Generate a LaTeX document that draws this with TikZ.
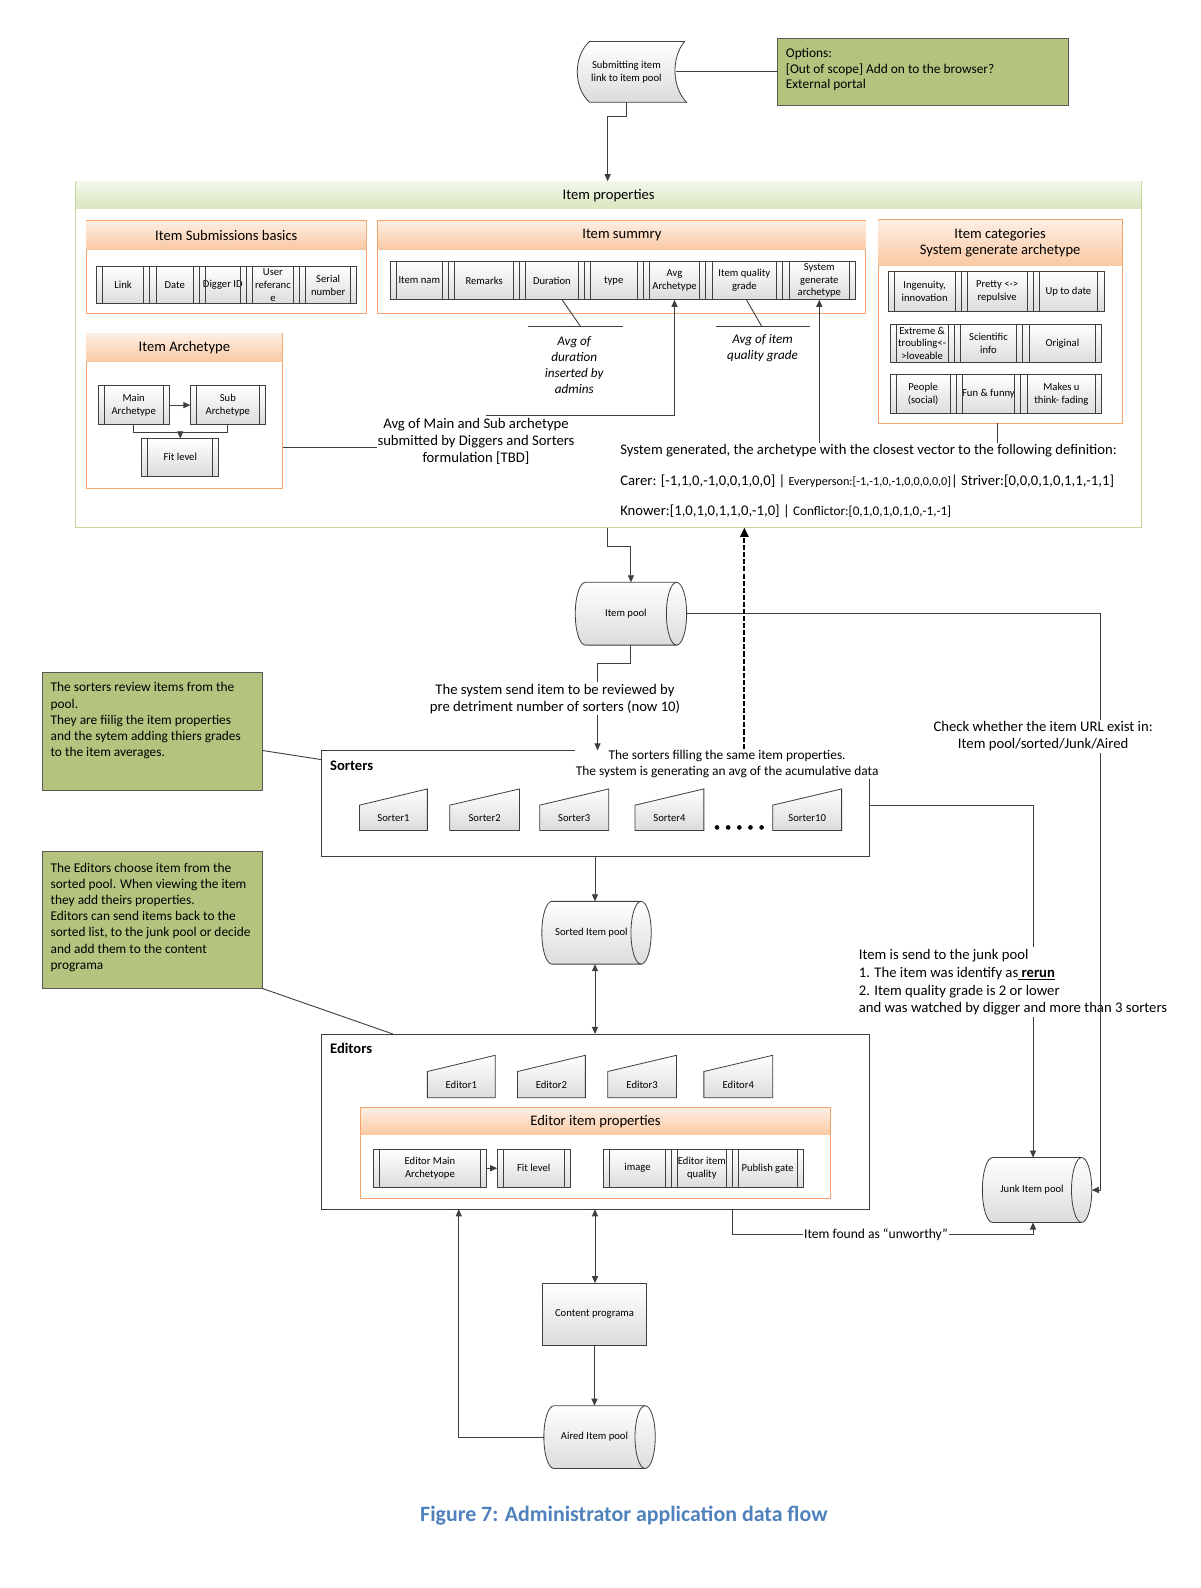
\documentclass[tikz,border=0pt]{standalone}
\usepackage{fontspec}
\setmainfont{Carlito}
\usetikzlibrary{arrows.meta,calc}
\definecolor{ln}{HTML}{3F3F3F}
\definecolor{grbd}{HTML}{C3D69B}
\definecolor{grA}{HTML}{F3F7EA}
\definecolor{grB}{HTML}{DAE6C0}
\definecolor{orbd}{HTML}{F5A56A}
\definecolor{orA}{HTML}{FEEEE2}
\definecolor{orB}{HTML}{FAC9A3}
\definecolor{note}{HTML}{B4C47F}
\definecolor{notebd}{HTML}{5A5A5A}
\definecolor{capc}{HTML}{4F81BD}
\definecolor{shB}{HTML}{DCDCDC}
\newcommand\fs[2]{\fontsize{#1}{#2}\selectfont}
\newcommand\bx[7][]{\node[#1, minimum width={(#5)-(#3)}, minimum height={(#6)-(#4)}] (#2) at ({((#3)+(#5))/2},{((#4)+(#6))/2}) {#7};}
\newcommand\ppl[1]{\draw[draw=ln, line width=0.8pt] ([xshift=6pt]#1.north west) -- ([xshift=6pt]#1.south west) ([xshift=-6pt]#1.north east) -- ([xshift=-6pt]#1.south east);}
\newcommand\pcell[6]{\bx[cellst]{#1}{#2}{#3}{#4}{#5}{#6}\ppl{#1}}
\newcommand\manin[7]{\path[shp] (#2,#5) -- (#3,#4) -- (#3,#6) -- (#2,#6) -- cycle;
  \bx[plain]{#1}{#2}{#5}{#3}{#6}{#7}}
\newcommand\cyl[6]{%
  \path[shp] (#2+10,#3) -- (#4-10,#3) arc[start angle=-90,end angle=90,x radius=10,y radius={((#5)-(#3))/2}] -- (#2+10,#5) arc[start angle=90,end angle=270,x radius=10,y radius={((#5)-(#3))/2}] -- cycle;
  \draw[draw=ln, line width=0.8pt] (#4-10,#3) arc[start angle=270,end angle=90,x radius=10,y radius={((#5)-(#3))/2}];
  \bx[plain]{#1}{#2}{#3}{#4}{#5}{}
  \node[plain] (#1t) at ([xshift=-5pt]#1.center) {#6};}
\tikzset{
 every node/.style={outer sep=0pt},
 ln/.style={draw=ln, line width=0.9pt},
 arr/.style={ln, -{Triangle[length=7pt,width=6pt]}},
 darr/.style={ln, {Triangle[length=7pt,width=6pt]}-{Triangle[length=7pt,width=6pt]}},
 dasharr/.style={draw=black, line width=2pt, dash pattern=on 5pt off 2pt, -{Triangle[length=9pt,width=8pt]}},
 cellst/.style={draw=ln, line width=0.8pt, top color=white, bottom color=shB, align=center, inner sep=1pt, font=\fs{10.5}{12.5}},
 plain/.style={draw=none, align=center, inner sep=1pt, font=\fs{10.5}{12.5}},
 shp/.style={draw=ln, line width=0.8pt, top color=white, bottom color=shB},
 gcont/.style={draw=grbd, line width=1pt, fill=white},
 ghdr/.style={draw=none, top color=grA, bottom color=grB, font=\fs{14.4}{17}},
 ocont/.style={draw=orbd, line width=1pt, fill=white},
 ohdr/.style={draw=none, top color=orA, bottom color=orB, font=\fs{14.4}{16.5}, align=center},
 notebox/.style={draw=notebd, line width=0.9pt, fill=note},
 notetext/.style={align=left, inner sep=0pt, font=\fs{13.2}{16}},
 frame/.style={draw=ln, line width=0.9pt, fill=white},
 lbl/.style={align=center, inner sep=1.5pt, font=\fs{14.5}{17}},
 boldlbl/.style={anchor=west, inner sep=0pt, font=\fs{14.4}{16}\bfseries},
}
\begin{document}
\begin{tikzpicture}[x=1pt,y=-1pt]
\useasboundingbox (0,0) rectangle (1185,1568);
\fill[white] (0,0) rectangle (1185,1568);

% ---------- top ----------
\path[shp] (582,41) -- (676,41) .. controls (663,56) and (663,86) .. (678,101) -- (582,101) .. controls (566,86) and (566,56) .. (582,41) -- cycle;
\bx[plain]{submit}{570}{41}{667}{101}{Submitting item\\link to item pool}
\bx[notebox]{options}{768}{38}{1055}{104}{}
\node[notetext, font=\fs{13.2}{15}, anchor=north west] (optionst) at (776,48) {Options:\\{[}Out of scope{]} Add on to the browser?\\External portal};

% ---------- item properties ----------
\bx[gcont]{props}{75}{179}{1127}{521}{}
\bx[ghdr]{propshdr}{75.5}{179.5}{1126.5}{206}{Item properties}

\bx[ocont]{basics}{85}{218}{362}{310}{}
\bx[ohdr]{basicshdr}{85.5}{218.5}{361.5}{246}{Item Submissions basics}
\pcell{link}{95}{263}{148}{300}{Link}
\pcell{date}{148}{263}{197}{300}{Date}
\pcell{digger}{197}{263}{243}{300}{Digger ID}
\pcell{userref}{243}{263}{296}{300}{User\\referanc\\e}
\pcell{serial}{296}{263}{352}{300}{Serial\\number}

\bx[ocont]{summary}{373}{218}{855}{310}{}
\bx[ohdr]{summaryhdr}{373.5}{218.5}{854.5}{246}{Item summry}
\pcell{itemnam}{385}{258}{443}{296}{Item nam}
\pcell{remarks}{443}{258}{513}{296}{Remarks}
\pcell{duration}{513}{258}{577}{296}{Duration}
\pcell{type}{577}{258}{635}{296}{type}
\pcell{avgarch}{635}{258}{697}{296}{Avg\\Archetype}
\pcell{quality}{697}{258}{773}{296}{Item quality\\grade}
\pcell{sysgen}{773}{258}{845}{296}{System\\generate\\archetype}

\bx[ocont]{cats}{867}{217}{1108}{418}{}
\bx[ohdr]{catshdr}{867.5}{217.5}{1107.5}{262}{Item categories\\System generate archetype}
\pcell{ingen}{877}{268}{949}{307}{Ingenuity,\\innovation}
\pcell{pretty}{949}{268}{1020}{307}{Pretty <->\\repulsive}
\pcell{uptodate}{1020}{268}{1090}{307}{Up to date}
\pcell{extreme}{879}{320}{942}{358}{Extreme \&\\troubling<-\\>loveable}
\pcell{scientific}{942}{320}{1010}{358}{Scientific\\info}
\pcell{original}{1010}{320}{1088}{358}{Original}
\pcell{people}{879}{370}{944}{408}{People\\(social)}
\pcell{fun}{944}{370}{1008}{408}{Fun \& funny}
\pcell{makes}{1008}{370}{1088}{408}{Makes u\\think- fading}

\bx[ocont]{arche}{85}{329}{279}{482}{}
\bx[ohdr]{archehdr}{85.5}{329.5}{278.5}{357}{Item Archetype}
\pcell{mainarch}{97}{381}{167}{419}{Main\\Archetype}
\pcell{subarch}{188}{381}{262}{419}{Sub\\Archetype}
\pcell{fitlvl}{140}{433}{216}{470}{Fit level}
\draw[arr] (mainarch.east) -- (subarch.west);
\draw[ln] (mainarch.south) -- ++(0,8) -| (subarch.south);
\draw[arr] ($(fitlvl.north)+(0,-7)$) -- (fitlvl.north);

% annotations inside item properties
\node[lbl, font=\fs{13}{15.7}\itshape] (avgdur) at (567,360.5) {Avg of\\duration\\inserted by\\admins};
\coordinate (cdl) at (521,322); \coordinate (cdr) at (615,322); \coordinate (cdm) at (573,322);
\draw[ln] ($(duration.south)+(10,0)$) -- (cdm);
\draw[ln] (cdl) -- (cdr);
\node[lbl, font=\fs{13}{15.5}\itshape] (avgqual) at (753,343.5) {Avg of item\\quality grade};
\coordinate (cql) at (707,322); \coordinate (cqr) at (800,322); \coordinate (cqm) at (752,322);
\draw[ln] ($(quality.south)+(2,0)$) -- (cqm);
\draw[ln] (cql) -- (cqr);

\node[lbl] (avgmain) at (470,436) {Avg of Main and Sub archetype\\submitted by Diggers and Sorters\\formulation {[}TBD{]}};
\draw[ln] (arche.east |- 0,442) -- (372,442);
\coordinate (am1) at (480,410);
\draw[arr] (am1) -| (avgarch.south);

\node[lbl, anchor=west] (sg1) at (611,445) {System generated, the archetype with the closest vector to the following definition:};
\node[lbl, anchor=west] (sg2) at (611,475) {Carer: [-1,1,0,-1,0,0,1,0,0] | {\fs{12}{14}Everyperson:[-1,-1,0,-1,0,0,0,0,0]}| Striver:[0,0,0,1,0,1,1,-1,1]};
\node[lbl, anchor=west] (sg3) at (611,505) {Knower:[1,0,1,0,1,1,0,-1,0] | {\fs{13}{15}Conflictor:[0,1,0,1,0,1,0,-1,-1]}};
\draw[arr] (sg1.north -| sysgen.south) -- (sysgen.south);
\coordinate (k1) at (985,0);
\draw[ln] (cats.south -| k1) -- (sg1.north -| k1);

% top connectors
\draw[ln] (submit.east) -- (options.west);
\coordinate (c1) at (600,115);
\draw[arr] (submit.south) |- (c1) -- (c1 |- props.north);

% ---------- item pool ----------
\cyl{itempool}{568}{575}{678}{637}{Item pool}
\coordinate (p1) at (600,540);
\draw[arr] (props.south -| p1) -- (p1) -| (itempool.north);

% ---------- sorters ----------
\bx[frame]{sorters}{317}{741}{858}{846}{}
\node[boldlbl] (sorterslbl) at (326,756) {Sorters};
\manin{sorter1}{355}{422}{779}{795}{820}{Sorter1}
\manin{sorter2}{444}{513}{779}{795}{820}{Sorter2}
\manin{sorter3}{533}{601}{779}{795}{820}{Sorter3}
\manin{sorter4}{627}{695}{779}{795}{820}{Sorter4}
\manin{sorter10}{763}{831}{779}{795}{820}{Sorter10}
\foreach \i in {0,...,4} \fill[black] (708+11*\i,817) circle[radius=2.3];

\node[lbl] (sendtxt) at (548,690) {The system send item to be reviewed by\\pre detriment number of sorters (now 10)};
\coordinate (p2) at (590,655);
\draw[ln] (itempool.south) |- (p2) -- (p2 |- sendtxt.north);

\node[lbl, fill=white, font=\fs{13.2}{16}, inner sep=1pt] (sfill) at (718,754) {The sorters filling the same item properties.\\The system is generating an avg of the acumulative data};
\draw[arr] (sendtxt.south -| p2) -- (p2 |- sorters.north);
\coordinate (d1) at (735,0);

% notes
\bx[notebox]{note1}{42}{664}{259}{780}{}
\node[notetext, anchor=north west] (note1t) at (50,674) {The sorters review items from the\\pool.\\They are fiilig the item properties\\and the sytem adding thiers grades\\to the item averages.};
\bx[notebox]{note2}{42}{841}{259}{976}{}
\node[notetext, anchor=north west] (note2t) at (50,852) {The Editors choose item from the\\sorted pool. When viewing the item\\they add theirs properties.\\Editors can send items back to the\\sorted list, to the junk pool or decide\\and add them to the content\\programa};
\draw[ln] ([yshift=-19pt]note1.east) -- ([yshift=-9pt]sorters.north west);

% ---------- sorted pool ----------
\cyl{sorted}{535}{890}{643}{952}{Sorted Item pool}
\draw[arr] (sorters.south) -- (sorters.south |- sorted.north);

% ---------- editors ----------
\bx[frame]{editors}{317}{1021}{858}{1194}{}
\node[boldlbl] (editorslbl) at (326,1035) {Editors};
\manin{editor1}{422}{489}{1042}{1058}{1084}{Editor1}
\manin{editor2}{511}{578}{1042}{1058}{1084}{Editor2}
\manin{editor3}{600}{668}{1042}{1058}{1084}{Editor3}
\manin{editor4}{695}{763}{1042}{1058}{1084}{Editor4}
\bx[ocont]{edprops}{356}{1094}{820}{1183}{}
\bx[ohdr]{edpropshdr}{356.5}{1094.5}{819.5}{1120}{Editor item properties}
\pcell{edmain}{369}{1135}{480}{1172}{Editor Main\\Archetyope}
\pcell{edfit}{491}{1135}{563}{1172}{Fit level}
\pcell{image}{596}{1135}{663}{1172}{image}
\pcell{edqual}{663}{1135}{723}{1172}{Editor item\\quality}
\pcell{publish}{723}{1135}{793}{1172}{Publish gate}
\draw[arr] (edmain.east) -- (edfit.west);

\draw[darr] (sorters.south |- sorted.south) -- (sorters.south |- editors.north);
\coordinate (e1) at (388,0);
\draw[ln] (note2.south east) -- (editors.north -| e1);

% ---------- junk ----------
\cyl{junk}{970}{1143}{1078}{1207}{Junk Item pool}
\node[lbl, align=left, anchor=west, fill=white, inner sep=2pt, font=\fs{14.5}{17.5}] (junktxt) at (846,970) {Item is send to the junk pool\\1. The item was identify as\underline{\ \textbf{rerun}}\\2. Item quality grade is 2 or lower\\and was watched by digger and more than 3 sorters};
\coordinate (s1) at (1020,795);
\draw[ln] (sorters.east |- s1) -- (s1) -- (s1 |- junktxt.north);
\draw[arr] (junktxt.south -| s1) -- (s1 |- junk.north);

\coordinate (j1) at (1087,606);
\draw[arr] (itempool.east) -- (j1) |- (junk.east);
\node[lbl, fill=white] (check) at (1030,727) {Check whether the item URL exist in:\\Item pool/sorted/Junk/Aired};

\draw[dasharr] (sfill.north -| d1) -- (props.south -| d1);

\coordinate (u1) at (723,1219);
\draw[arr] (editors.south -| u1) -- (u1) -| (s1 |- junk.south);
\node[lbl, fill=white, font=\fs{13.4}{15}] (unw) at (865,1219) {Item found as “unworthy”};

% ---------- content / aired ----------
\bx[cellst]{content}{536}{1267}{638}{1328}{Content programa}
\cyl{aired}{537}{1388}{647}{1450}{Aired Item pool}
\draw[darr] (editors.south) -- (editors.south |- content.north);
\draw[arr] (content.south) -- (content.south |- aired.north);
\coordinate (a1) at (453,1419);
\draw[arr] (aired.west) -- (a1) -- (a1 |- editors.south);

% caption
\node[font=\fs{21.6}{26}\bfseries, text=capc] (caption) at (616,1497) {Figure 7: Administrator application data flow};
\end{tikzpicture}
\end{document}
